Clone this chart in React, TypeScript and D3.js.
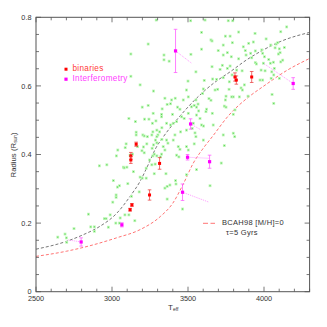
import React from 'react';
import * as d3 from 'd3';

// field M dwarfs: [Teff, radius]
const fieldStars: [number, number][] = [
  [3291, 0.792], [3238, 0.722], [3124, 0.693], [3124, 0.628], [3185, 0.603], [3273, 0.585], [3199, 0.538], [3238, 0.543],
  [3330, 0.533], [3111, 0.505], [3214, 0.503], [3243, 0.503], [3271, 0.520], [3326, 0.517], [3326, 0.510], [3154, 0.496],
  [3289, 0.498], [3266, 0.491], [3328, 0.478], [3295, 0.471], [3159, 0.465], [3159, 0.457], [3203, 0.457], [3212, 0.454],
  [3269, 0.466], [3262, 0.457], [3233, 0.452], [3313, 0.466], [3302, 0.457], [3295, 0.452], [3286, 0.442], [3168, 0.423],
  [3038, 0.413], [3093, 0.431], [3087, 0.420], [3207, 0.422], [3229, 0.431], [3273, 0.428], [3264, 0.418], [3295, 0.434],
  [3328, 0.444], [3029, 0.396], [3119, 0.398], [3135, 0.401], [3197, 0.411], [3212, 0.405], [3247, 0.384], [3269, 0.396],
  [3278, 0.401], [3295, 0.396], [3326, 0.401], [3319, 0.393],
  [2917, 0.367], [2966, 0.370], [3075, 0.363], [3098, 0.363], [3080, 0.361], [3141, 0.350], [3225, 0.360], [3262, 0.370],
  [3284, 0.372], [3185, 0.334], [3199, 0.331], [3225, 0.331], [3278, 0.344], [3009, 0.324], [3036, 0.305], [3049, 0.309],
  [3104, 0.315], [3027, 0.282], [3027, 0.275], [3128, 0.278], [3179, 0.291], [3005, 0.261], [2988, 0.224], [2950, 0.213],
  [2961, 0.213], [3054, 0.215], [3111, 0.224], [3085, 0.224], [3150, 0.207], [3025, 0.200], [3049, 0.200], [2976, 0.188],
  [2845, 0.226], [2860, 0.189], [2884, 0.189], [2884, 0.176], [2750, 0.184], [2691, 0.168], [2700, 0.157], [2643, 0.159],
  [2702, 0.144],
  [3517, 0.790], [3612, 0.792], [3765, 0.790], [3794, 0.790], [4149, 0.772], [4110, 0.758], [3589, 0.756], [3833, 0.757],
  [3651, 0.734], [3658, 0.731], [3746, 0.745], [3777, 0.745], [3941, 0.753], [4014, 0.737], [3732, 0.719], [3792, 0.726],
  [3930, 0.728], [4080, 0.722], [4090, 0.726], [4101, 0.708], [4073, 0.711], [4134, 0.712], [4044, 0.719], [3864, 0.714],
  [3342, 0.690], [3376, 0.672], [3519, 0.692], [3589, 0.707], [3699, 0.703], [3732, 0.690], [3759, 0.697], [3785, 0.685],
  [3877, 0.703], [3882, 0.690], [3899, 0.724], [3833, 0.679], [3912, 0.695], [3919, 0.682], [3985, 0.705], [3991, 0.695],
  [4095, 0.693], [4106, 0.697], [4123, 0.675], [4031, 0.677], [3943, 0.668], [3996, 0.666], [4042, 0.666], [4062, 0.669],
  [4110, 0.670], [3552, 0.641], [3658, 0.656], [3726, 0.660], [3711, 0.648], [3759, 0.651], [3777, 0.658], [3820, 0.646],
  [3856, 0.644], [3981, 0.646], [4007, 0.644], [4068, 0.651], [3607, 0.616], [3662, 0.620], [3688, 0.619], [3732, 0.624],
  [3790, 0.632], [3772, 0.612], [3871, 0.603], [3974, 0.617], [3991, 0.617], [3500, 0.614], [3490, 0.588], [3502, 0.568],
  [3601, 0.591], [3596, 0.578], [3678, 0.588], [3695, 0.590], [3770, 0.590], [3849, 0.594], [3858, 0.588], [3750, 0.570],
  [3787, 0.568], [3838, 0.568], [4053, 0.575], [3469, 0.559], [3552, 0.559], [3566, 0.547], [3638, 0.563], [3651, 0.558],
  [3746, 0.559], [3739, 0.541], [3750, 0.538], [3798, 0.568], [3895, 0.570], [3523, 0.539], [3541, 0.543], [3556, 0.538],
  [3570, 0.527], [3622, 0.532], [3618, 0.525], [3660, 0.520], [3502, 0.520], [3348, 0.564], [3392, 0.559], [3416, 0.564],
  [3363, 0.546], [3385, 0.548], [3398, 0.517], [3431, 0.538], [3447, 0.532], [3458, 0.510], [3475, 0.505], [3556, 0.515],
  [3579, 0.505], [3666, 0.486], [3809, 0.530], [3798, 0.517], [3589, 0.486], [3602, 0.483], [3359, 0.491], [3385, 0.486],
  [3403, 0.491], [3425, 0.496], [3490, 0.471], [3451, 0.466], [3528, 0.476], [3535, 0.491], [3414, 0.457], [3403, 0.442],
  [3359, 0.442], [3368, 0.433], [3546, 0.463], [3552, 0.452], [3601, 0.442], [3732, 0.457], [3798, 0.462], [3807, 0.452],
  [3739, 0.426], [3337, 0.423], [3348, 0.413], [3436, 0.423], [3447, 0.415], [3490, 0.423], [3502, 0.413], [3541, 0.431],
  [3425, 0.398], [3440, 0.393],
  [3355, 0.344], [3348, 0.302], [3363, 0.307], [3381, 0.311], [3418, 0.324], [3421, 0.314], [3490, 0.341], [3556, 0.356],
  [3719, 0.375], [3645, 0.309], [3363, 0.270], [3464, 0.241],
  [3943, 0.702], [4003, 0.685], [3950, 0.664], [4051, 0.641], [4064, 0.632], [4047, 0.622], [4101, 0.622], [4064, 0.549],
  [3342, 0.676],
];

// eclipsing binaries
const binaryTeff = [3159, 3124, 3124, 3313, 3247, 3131, 3119, 3809, 3818, 3919];
const binaryRadius = [0.430, 0.396, 0.384, 0.374, 0.282, 0.253, 0.239, 0.626, 0.617, 0.626];
const binaryErr = [0.006, 0.010, 0.010, 0.017, 0.015, 0.004, 0.004, 0.012, 0.012, 0.016];

// interferometric radii, with the dotted link to the other estimate
const interfTeff = [3418, 3517, 3497, 3642, 4192, 3464, 3065, 2797];
const interfRadius = [0.702, 0.489, 0.392, 0.379, 0.607, 0.290, 0.195, 0.145];
const interfErr = [0.063, 0.015, 0.008, 0.019, 0.017, 0.024, 0.006, 0.012];
const linkTeff = [3524, 3581, 3637, null, 3996, 3638, null, 2711];
const linkRadius = [0.666, 0.473, 0.389, null, 0.666, 0.261, null, 0.151];

// models
const blackCurveTeff = [2500, 2702, 2810, 2922, 3032, 3119, 3185, 3240, 3290, 3340, 3447, 3556, 3666, 3777, 3886, 3996, 4106, 4300];
const blackCurveR = [0.124, 0.147, 0.166, 0.191, 0.229, 0.278, 0.322, 0.372, 0.420, 0.453, 0.512, 0.564, 0.607, 0.641, 0.676, 0.705, 0.729, 0.756];
const redCurveTeff = [2500, 2700, 2880, 3030, 3185, 3320, 3400, 3470, 3535, 3600, 3660, 3770, 3900, 4000, 4150, 4300];
const redCurveR = [0.103, 0.118, 0.137, 0.157, 0.181, 0.220, 0.258, 0.315, 0.375, 0.418, 0.452, 0.515, 0.568, 0.600, 0.645, 0.680];

const xMajor = [2500, 3000, 3500, 4000];
const yMajor = [0, 0.2, 0.4, 0.6, 0.8];
const yLabels = ['0', '0.2', '0.4', '0.6', '0.8'];

function App() {
  const w = 327, h = 327;
  const left = 36, right = 309.6, top = 17.3, bottom = 291.7;

  const x = d3.scaleLinear().domain([2500, 4300]).range([left, right]);
  const y = d3.scaleLinear().domain([0, 0.8]).range([bottom, top]);

  const xMinor = d3.range(2500, 4301, 100);
  const yMinor = d3.range(0, 0.801, 0.05);

  const line = d3.line<[number, number]>()
    .x(d => x(d[0]))
    .y(d => y(d[1]))
    .curve(d3.curveMonotoneX);

  const blackPts = blackCurveTeff.map((t, i) => [t, blackCurveR[i]] as [number, number]);
  const redPts = redCurveTeff.map((t, i) => [t, redCurveR[i]] as [number, number]);

  const axisColor = '#555';
  const font = 'Liberation Sans, Arial, sans-serif';
  const tickLen = (major: boolean) => (major ? 5 : 3);

  return (
    <svg width={w} height={h} style={{ position: 'absolute', left: 0, top: 0, background: '#fff' }}>
      {/* model curves */}
      <path d={line(blackPts) || ''} fill="none" stroke="#555" strokeWidth={0.8} strokeDasharray="3,2" />
      <path d={line(redPts) || ''} fill="none" stroke="#ff5050" strokeWidth={0.8} strokeDasharray="3,2" />

      {/* field stars */}
      {fieldStars.map((d, i) => (
        <g key={i}>
          <rect x={x(d[0]) - 1.4} y={y(d[1]) - 1.4} width={2.8} height={2.8} fill="#bdf7b5" />
          <rect x={x(d[0]) - 0.5} y={y(d[1]) - 0.5} width={1} height={1} fill="#4cc84c" />
        </g>
      ))}

      {/* interferometry links */}
      {interfTeff.map((t, i) => linkTeff[i] === null ? null : (
        <line key={'l' + i} x1={x(t)} y1={y(interfRadius[i])} x2={x(linkTeff[i] as number)} y2={y(linkRadius[i] as number)}
          stroke="#ff80ff" strokeWidth={0.8} strokeDasharray="1,1" />
      ))}

      {/* binaries */}
      {binaryTeff.map((t, i) => {
        const cx = x(t), y0 = y(binaryRadius[i] - binaryErr[i]), y1 = y(binaryRadius[i] + binaryErr[i]);
        return (
          <g key={'b' + i} stroke="#e83030" strokeWidth={0.7}>
            <line x1={cx} x2={cx} y1={y0} y2={y1} />
            <line x1={cx - 1.8} x2={cx + 1.8} y1={y0} y2={y0} />
            <line x1={cx - 1.8} x2={cx + 1.8} y1={y1} y2={y1} />
            <rect x={cx - 1.5} y={y(binaryRadius[i]) - 1.5} width={3} height={3} fill="#f00" stroke="none" />
          </g>
        );
      })}

      {/* interferometry */}
      {interfTeff.map((t, i) => {
        const cx = x(t), y0 = y(interfRadius[i] - interfErr[i]), y1 = y(interfRadius[i] + interfErr[i]);
        return (
          <g key={'m' + i} stroke="#ff60ff" strokeWidth={0.8}>
            <line x1={cx} x2={cx} y1={y0} y2={y1} />
            <line x1={cx - 1.8} x2={cx + 1.8} y1={y0} y2={y0} />
            <line x1={cx - 1.8} x2={cx + 1.8} y1={y1} y2={y1} />
            <rect x={cx - 1.6} y={y(interfRadius[i]) - 1.6} width={3.2} height={3.2} fill="#f0f" stroke="none" />
          </g>
        );
      })}

      {/* frame */}
      <rect x={left} y={top} width={right - left} height={bottom - top} fill="none" stroke={axisColor} strokeWidth={1} />

      {/* x ticks, bottom and top */}
      {xMinor.map(t => {
        const major = t % 500 === 0;
        const l = tickLen(major);
        return (
          <g key={'xt' + t} stroke={axisColor} strokeWidth={0.8}>
            <line x1={x(t)} x2={x(t)} y1={bottom} y2={bottom - l} />
            <line x1={x(t)} x2={x(t)} y1={top} y2={top + l} />
          </g>
        );
      })}
      {yMinor.map((r, i) => {
        const major = i % 4 === 0;
        const l = tickLen(major);
        return (
          <g key={'yt' + i} stroke={axisColor} strokeWidth={0.8}>
            <line x1={left} x2={left + l} y1={y(r)} y2={y(r)} />
            <line x1={right} x2={right - l} y1={y(r)} y2={y(r)} />
          </g>
        );
      })}

      {/* tick labels */}
      {xMajor.map(t => (
        <text key={'xl' + t} x={x(t)} y={bottom + 9.5} textAnchor="middle" fontFamily={font} fontSize={7.3} fill="#333">{t}</text>
      ))}
      {yMajor.map((r, i) => (
        <text key={'yl' + i} x={left - 4.5} y={y(r) + (i === 0 ? 1.8 : 2.6)} textAnchor="end" fontFamily={font} fontSize={7.3} fill="#333">{yLabels[i]}</text>
      ))}

      {/* axis titles */}
      <text x={168} y={309.5} fontFamily={font} fontSize={8} fill="#333">
        T<tspan fontSize={5} dy={1.8}>eff</tspan>
      </text>
      <text transform="translate(15.5,155) rotate(-90)" textAnchor="middle" fontFamily={font} fontSize={7.8} fill="#333">
        Radius (R<tspan fontSize={4.8} dy={1.8}>sun</tspan><tspan dy={-1.8}>)</tspan>
      </text>

      {/* legend, top left */}
      <rect x={64.5} y={67.7} width={3} height={3} fill="#f00" />
      <text x={72.5} y={71} fontFamily={font} fontSize={8.2} letterSpacing={0.3} fill="#ff3a3a">binaries</text>
      <rect x={64.4} y={77.6} width={3.2} height={3.2} fill="#f0f" />
      <text x={72.5} y={81} fontFamily={font} fontSize={8.2} letterSpacing={0.3} fill="#ff40ff">Interferometry</text>

      {/* legend, bottom right */}
      <line x1={203} x2={215} y1={223.3} y2={223.3} stroke="#ff5050" strokeWidth={0.8} strokeDasharray="5,2.5" />
      <text x={222} y={224.5} fontFamily={font} fontSize={7.5} letterSpacing={0.3} fill="#333">BCAH98 [M/H]=0</text>
      <text x={226} y={235} fontFamily={font} fontSize={7.5} letterSpacing={0.3} fill="#333">τ=5 Gyrs</text>
    </svg>
  );
}

export default App;
